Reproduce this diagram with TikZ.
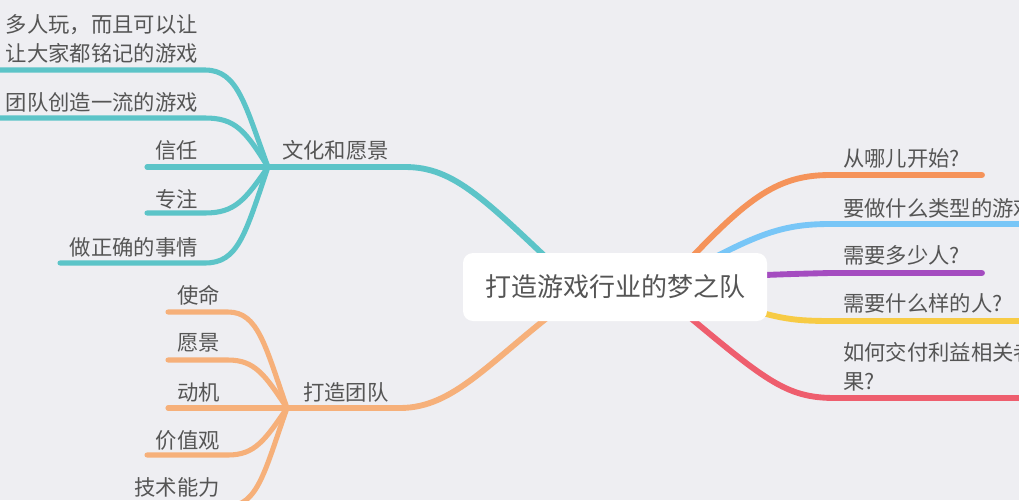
\documentclass[tikz,border=0pt]{standalone}
\usepackage{fontspec}
\newfontfamily\cjk{Noto Sans CJK SC}
\definecolor{bgcol}{RGB}{238,238,242}
\definecolor{txtcol}{RGB}{85,85,85}
\definecolor{tealcol}{RGB}{92,196,200}
\definecolor{peachcol}{RGB}{246,176,122}
\definecolor{orangecol}{RGB}{245,147,90}
\definecolor{bluecol}{RGB}{120,198,247}
\definecolor{purplecol}{RGB}{164,76,192}
\definecolor{yellowcol}{RGB}{247,203,69}
\definecolor{redcol}{RGB}{238,94,110}
\tikzset{
	leaf/.style={font=\cjk\fontsize{16}{22}\selectfont, text=txtcol, inner sep=0pt},
	branch/.style={line width=3.8pt, line cap=round},
	trunk/.style={line width=4.4pt, line cap=round}
}
\begin{document}
\begin{tikzpicture}[x=0.75pt, y=-0.75pt]
	\fill[bgcol] (0,0) rectangle (1019,500);
	\useasboundingbox (0,0) rectangle (1019,500);

	% junctions and free line ends
	\coordinate (wj) at (268,167);
	\coordinate (tj) at (287,408);
	\coordinate (w1) at (-10,70);
	\coordinate (w2) at (-10,118);
	\coordinate (w3) at (147,167);
	\coordinate (w4) at (147,213);
	\coordinate (w5) at (60,263);
	\coordinate (t1) at (168,312);
	\coordinate (t2) at (168,360);
	\coordinate (t3) at (168,408);
	\coordinate (t4) at (147,455);
	\coordinate (t5) at (100,506);
	\coordinate (r1) at (982,175);
	\coordinate (r2) at (1030,224);
	\coordinate (r3) at (982,273);
	\coordinate (r4) at (1030,321);
	\coordinate (r5) at (1030,398);
	\coordinate (hw) at (570,280);
	\coordinate (ht) at (570,300);
	\coordinate (h1) at (675,275);
	\coordinate (h2) at (700,265);
	\coordinate (h3) at (740,276);
	\coordinate (h4) at (740,306);
	\coordinate (h5) at (675,305);

	% trunks
	\draw[trunk, tealcol]   (wj) -- (405,167) .. controls (455,167) and (485,200) .. (hw);
	\draw[trunk, peachcol]  (tj) -- (400,408) .. controls (455,408) and (490,360) .. (ht);
	\draw[trunk, orangecol] (h1) .. controls (745,200) and (775,175) .. (830,175) -- (r1);
	\draw[trunk, bluecol]   (h2) .. controls (760,233) and (785,224) .. (830,224) -- (r2);
	\draw[trunk, purplecol] (h3) .. controls (790,274) .. (830,273) -- (r3);
	\draw[trunk, yellowcol] (h4) .. controls (785,321) and (800,321) .. (840,321) -- (r4);
	\draw[trunk, redcol]    (h5) .. controls (765,380) and (785,398) .. (835,398) -- (r5);

	% culture branches
	\draw[branch, tealcol] (wj) .. controls (245,105) and (238,70) .. (205,70) -- (w1);
	\draw[branch, tealcol] (wj) .. controls (245,130) and (235,118) .. (205,118) -- (w2);
	\draw[branch, tealcol] (wj) -- (w3);
	\draw[branch, tealcol] (wj) .. controls (245,200) and (235,213) .. (205,213) -- (w4);
	\draw[branch, tealcol] (wj) .. controls (245,235) and (238,263) .. (205,263) -- (w5);

	% team branches
	\draw[branch, peachcol] (tj) .. controls (265,345) and (258,312) .. (228,312) -- (t1);
	\draw[branch, peachcol] (tj) .. controls (265,375) and (255,360) .. (228,360) -- (t2);
	\draw[branch, peachcol] (tj) -- (t3);
	\draw[branch, peachcol] (tj) .. controls (265,440) and (255,455) .. (228,455) -- (t4);
	\draw[branch, peachcol] (tj) .. controls (265,470) and (258,506) .. (228,506) -- (t5);

	% centre
	\node[fill=white, rounded corners=7.5pt, minimum width=228pt, minimum height=51pt,
		font=\cjk\fontsize{19.5}{24}\selectfont, text=txtcol] (hub) at (615,287) {打造游戏行业的梦之队};

	% labels
	\node[leaf, anchor=west] (wenhua) at (282,150) {文化和愿景};
	\node[leaf, anchor=west] (tuandui) at (303,392) {打造团队};
	\node[leaf, anchor=east, align=right] (wh1) at (198,39) {多人玩，而且可以让\\让大家都铭记的游戏};
	\node[leaf, anchor=east] (wh2) at (198,102) {团队创造一流的游戏};
	\node[leaf, anchor=east] (wh3) at (198,150) {信任};
	\node[leaf, anchor=east] (wh4) at (198,199) {专注};
	\node[leaf, anchor=east] (wh5) at (198,247) {做正确的事情};
	\node[leaf, anchor=east] (td1) at (220,295) {使命};
	\node[leaf, anchor=east] (td2) at (220,343) {愿景};
	\node[leaf, anchor=east] (td3) at (220,392) {动机};
	\node[leaf, anchor=east] (td4) at (220,440) {价值观};
	\node[leaf, anchor=east] (td5) at (220,487) {技术能力};
	\node[leaf, anchor=west] (q1) at (843,158) {从哪儿开始?};
	\node[leaf, anchor=west] (q2) at (843,208) {要做什么类型的游戏};
	\node[leaf, anchor=west] (q3) at (843,255) {需要多少人?};
	\node[leaf, anchor=west] (q4) at (843,303) {需要什么样的人?};
	\node[leaf, anchor=west, align=left] (q5) at (843,367) {如何交付利益相关者\\果?};
\end{tikzpicture}
\end{document}
